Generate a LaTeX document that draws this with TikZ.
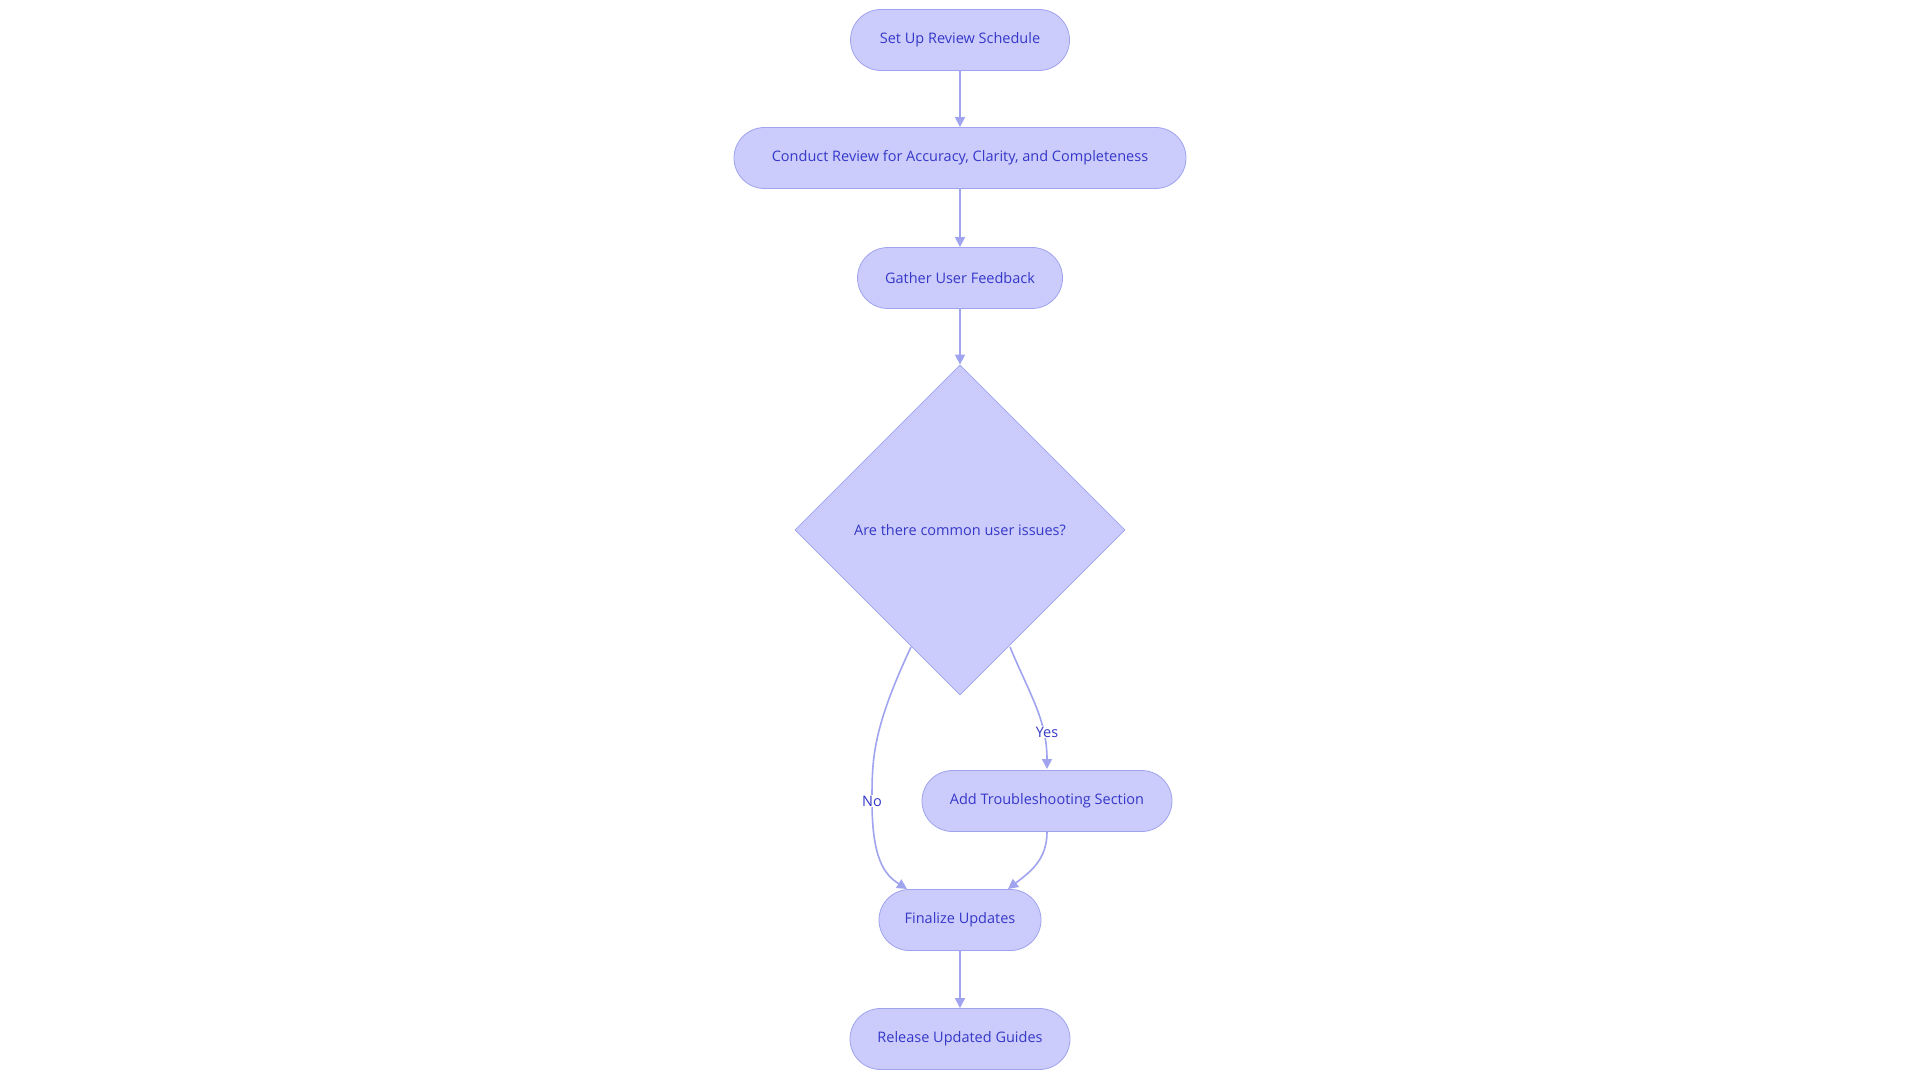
\documentclass[tikz,border=0pt]{standalone}
\usepackage{fontspec}
\setmainfont{Open Sans}
\usetikzlibrary{shapes.geometric,arrows.meta}
\definecolor{fillc}{HTML}{CBCCFB}
\definecolor{linec}{HTML}{A0A3EE}
\definecolor{txt}{HTML}{3538C8}
\begin{document}
\begin{tikzpicture}[x=1pt,y=-1pt,
  pill/.style={draw=linec,fill=fillc,rounded corners=30.5pt,minimum height=61pt,inner xsep=18pt,text=txt,font=\fontsize{14.5}{17}\selectfont,line width=0.8pt},
  dec/.style={draw=linec,fill=fillc,diamond,minimum width=330pt,minimum height=330pt,inner sep=0pt,text=txt,font=\fontsize{14.5}{17}\selectfont,line width=0.8pt},
  conn/.style={draw=linec,line width=1.6pt,-{Triangle[length=10pt,width=10pt]}},
  lab/.style={fill=white,text=txt,font=\fontsize{14.5}{17}\selectfont,inner sep=1pt}]
\useasboundingbox (0,0) rectangle (1920,1083);
\node[pill,minimum width=219pt] (n1) at (960,40) {Set Up Review Schedule};
\node[pill,minimum width=452pt] (n2) at (960,158) {Conduct Review for Accuracy, Clarity, and Completeness};
\node[pill,minimum width=205pt] (n3) at (960,278) {Gather User Feedback};
\node[dec] (d) at (960,530) {Are there common user issues?};
\node[pill,minimum width=250pt] (n5) at (1047,801) {Add Troubleshooting Section};
\node[pill,minimum width=162pt] (n6) at (960,920) {Finalize Updates};
\node[pill,minimum width=220pt] (n7) at (960,1039) {Release Updated Guides};
\draw[conn] (n1) -- (n2);
\draw[conn] (n2) -- (n3);
\draw[conn] (n3) -- (d.north);
\coordinate (dl) at (911,647);
\coordinate (dr) at (1010,647);
\draw[conn] (dl) .. controls (872,730) and (872,760) .. (872,801) .. controls (872,860) and (885,875) .. (907,889);
\node[lab] at (872,801) {No};
\draw[conn] (dr) .. controls (1030,695) and (1047,720) .. (1047,769);
\node[lab] at (1047,732) {Yes};
\draw[conn] (n5.south) .. controls (1047,860) and (1030,872) .. (1008,889);
\draw[conn] (n6) -- (n7);
\end{tikzpicture}
\end{document}
